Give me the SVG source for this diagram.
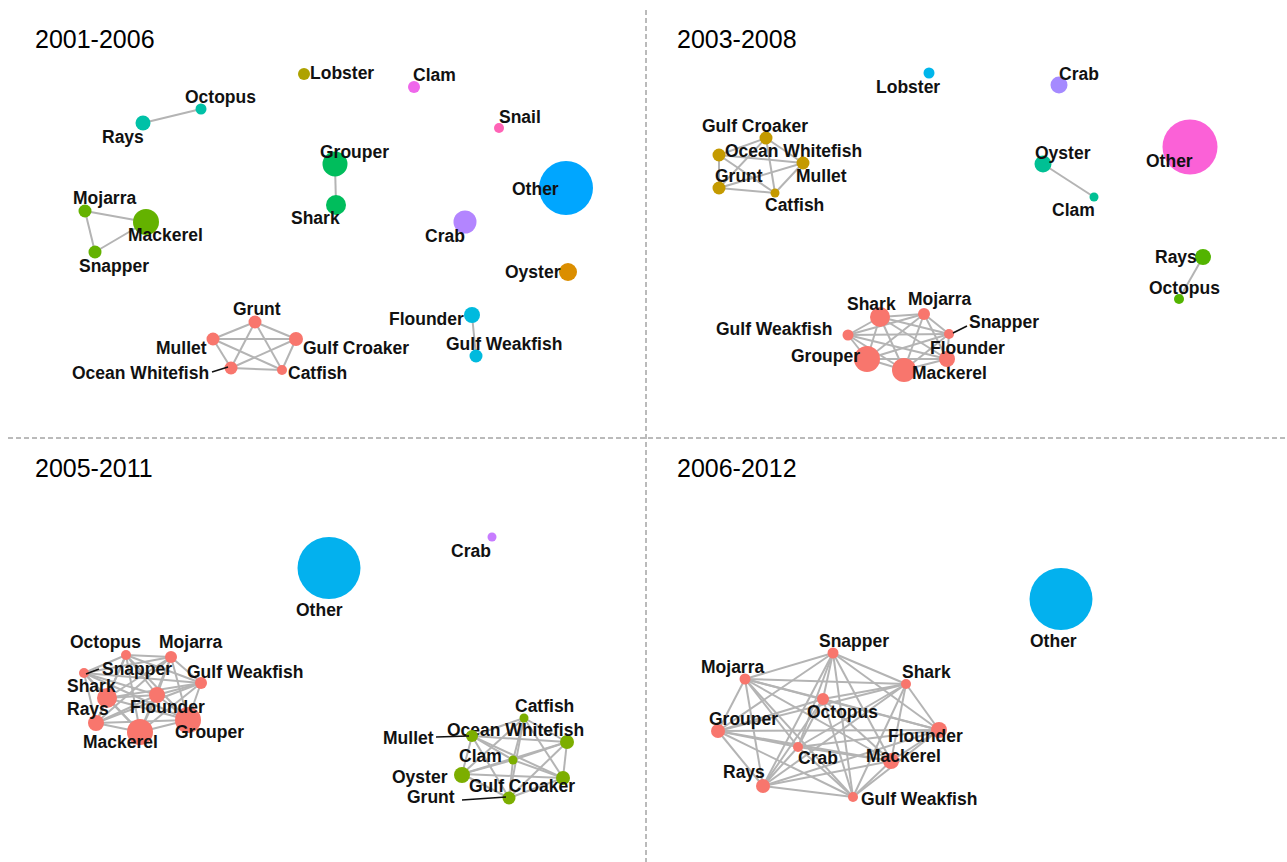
<svg xmlns="http://www.w3.org/2000/svg" width="1287" height="862" viewBox="0 0 1287 862">
<style>
.t{font-family:"Liberation Sans",Arial,sans-serif;font-size:25px;fill:#000}
.l{font-family:"Liberation Sans",Arial,sans-serif;font-size:17.5px;font-weight:bold;fill:#111}
.e line{stroke:#b4b4b4;stroke-width:2}
.ld{stroke:#111;stroke-width:1.6}
.dv{stroke:#777;stroke-width:1;stroke-dasharray:5 3;fill:none}
.s{fill:#F8766D}
</style>
<rect width="1287" height="862" fill="#fff"/>
<g id="dividers">
<line class="dv" x1="646" y1="10" x2="646" y2="862"/>
<line class="dv" x1="8" y1="438" x2="1287" y2="438"/>
</g>
<g id="titles">
<text class="t" x="35" y="48">2001-2006</text>
<text class="t" x="677" y="48">2003-2008</text>
<text class="t" x="35" y="477">2005-2011</text>
<text class="t" x="677" y="477">2006-2012</text>
</g>
<g id="connectors" class="e">
<!-- Q1 -->
<line x1="143" y1="123" x2="201" y2="109"/>
<line x1="335" y1="164" x2="336" y2="205"/>
<line x1="85" y1="211" x2="146" y2="222"/>
<line x1="85" y1="211" x2="95" y2="252"/>
<line x1="95" y1="252" x2="146" y2="222"/>
<line x1="472" y1="315" x2="476" y2="356"/>
<line x1="255" y1="322" x2="213" y2="339"/>
<line x1="255" y1="322" x2="296" y2="339"/>
<line x1="255" y1="322" x2="231" y2="368"/>
<line x1="255" y1="322" x2="282" y2="370"/>
<line x1="213" y1="339" x2="296" y2="339"/>
<line x1="213" y1="339" x2="231" y2="368"/>
<line x1="213" y1="339" x2="282" y2="370"/>
<line x1="296" y1="339" x2="231" y2="368"/>
<line x1="296" y1="339" x2="282" y2="370"/>
<line x1="231" y1="368" x2="282" y2="370"/>
<!-- Q2 -->
<line x1="1043" y1="164" x2="1094" y2="197"/>
<line x1="1203" y1="257" x2="1179" y2="299"/>
<line x1="766" y1="138" x2="719" y2="155"/>
<line x1="766" y1="138" x2="803" y2="163"/>
<line x1="766" y1="138" x2="719" y2="188"/>
<line x1="766" y1="138" x2="775" y2="193"/>
<line x1="719" y1="155" x2="803" y2="163"/>
<line x1="719" y1="155" x2="719" y2="188"/>
<line x1="719" y1="155" x2="775" y2="193"/>
<line x1="803" y1="163" x2="719" y2="188"/>
<line x1="803" y1="163" x2="775" y2="193"/>
<line x1="719" y1="188" x2="775" y2="193"/>
<line x1="880" y1="317" x2="924" y2="314"/>
<line x1="880" y1="317" x2="848" y2="335"/>
<line x1="880" y1="317" x2="949" y2="334"/>
<line x1="880" y1="317" x2="867" y2="359"/>
<line x1="880" y1="317" x2="904" y2="370"/>
<line x1="880" y1="317" x2="947" y2="359"/>
<line x1="924" y1="314" x2="848" y2="335"/>
<line x1="924" y1="314" x2="949" y2="334"/>
<line x1="924" y1="314" x2="867" y2="359"/>
<line x1="924" y1="314" x2="904" y2="370"/>
<line x1="924" y1="314" x2="947" y2="359"/>
<line x1="848" y1="335" x2="949" y2="334"/>
<line x1="848" y1="335" x2="867" y2="359"/>
<line x1="848" y1="335" x2="904" y2="370"/>
<line x1="848" y1="335" x2="947" y2="359"/>
<line x1="949" y1="334" x2="867" y2="359"/>
<line x1="949" y1="334" x2="904" y2="370"/>
<line x1="949" y1="334" x2="947" y2="359"/>
<line x1="867" y1="359" x2="904" y2="370"/>
<line x1="867" y1="359" x2="947" y2="359"/>
<line x1="904" y1="370" x2="947" y2="359"/>
<!-- Q3 salmon -->
<line x1="126" y1="655" x2="171" y2="657"/>
<line x1="126" y1="655" x2="84" y2="673"/>
<line x1="126" y1="655" x2="107" y2="698"/>
<line x1="126" y1="655" x2="201" y2="683"/>
<line x1="126" y1="655" x2="157" y2="695"/>
<line x1="126" y1="655" x2="96" y2="723"/>
<line x1="126" y1="655" x2="140" y2="732"/>
<line x1="126" y1="655" x2="188" y2="720"/>
<line x1="171" y1="657" x2="84" y2="673"/>
<line x1="171" y1="657" x2="107" y2="698"/>
<line x1="171" y1="657" x2="201" y2="683"/>
<line x1="171" y1="657" x2="157" y2="695"/>
<line x1="171" y1="657" x2="96" y2="723"/>
<line x1="171" y1="657" x2="140" y2="732"/>
<line x1="171" y1="657" x2="188" y2="720"/>
<line x1="84" y1="673" x2="107" y2="698"/>
<line x1="84" y1="673" x2="201" y2="683"/>
<line x1="84" y1="673" x2="157" y2="695"/>
<line x1="84" y1="673" x2="96" y2="723"/>
<line x1="84" y1="673" x2="140" y2="732"/>
<line x1="84" y1="673" x2="188" y2="720"/>
<line x1="107" y1="698" x2="201" y2="683"/>
<line x1="107" y1="698" x2="157" y2="695"/>
<line x1="107" y1="698" x2="96" y2="723"/>
<line x1="107" y1="698" x2="140" y2="732"/>
<line x1="107" y1="698" x2="188" y2="720"/>
<line x1="201" y1="683" x2="157" y2="695"/>
<line x1="201" y1="683" x2="96" y2="723"/>
<line x1="201" y1="683" x2="140" y2="732"/>
<line x1="201" y1="683" x2="188" y2="720"/>
<line x1="157" y1="695" x2="96" y2="723"/>
<line x1="157" y1="695" x2="140" y2="732"/>
<line x1="157" y1="695" x2="188" y2="720"/>
<line x1="96" y1="723" x2="140" y2="732"/>
<line x1="96" y1="723" x2="188" y2="720"/>
<line x1="140" y1="732" x2="188" y2="720"/>
<!-- Q3 green -->
<line x1="524" y1="718" x2="472" y2="736"/>
<line x1="524" y1="718" x2="567" y2="742"/>
<line x1="524" y1="718" x2="513" y2="760"/>
<line x1="524" y1="718" x2="462" y2="774"/>
<line x1="524" y1="718" x2="563" y2="778"/>
<line x1="524" y1="718" x2="509" y2="798"/>
<line x1="472" y1="736" x2="567" y2="742"/>
<line x1="472" y1="736" x2="513" y2="760"/>
<line x1="472" y1="736" x2="462" y2="774"/>
<line x1="472" y1="736" x2="563" y2="778"/>
<line x1="472" y1="736" x2="509" y2="798"/>
<line x1="567" y1="742" x2="513" y2="760"/>
<line x1="567" y1="742" x2="462" y2="774"/>
<line x1="567" y1="742" x2="563" y2="778"/>
<line x1="567" y1="742" x2="509" y2="798"/>
<line x1="513" y1="760" x2="462" y2="774"/>
<line x1="513" y1="760" x2="563" y2="778"/>
<line x1="513" y1="760" x2="509" y2="798"/>
<line x1="462" y1="774" x2="563" y2="778"/>
<line x1="462" y1="774" x2="509" y2="798"/>
<line x1="563" y1="778" x2="509" y2="798"/>
<!-- Q4 -->
<line x1="833" y1="653" x2="745" y2="679"/>
<line x1="833" y1="653" x2="906" y2="684"/>
<line x1="833" y1="653" x2="823" y2="699"/>
<line x1="833" y1="653" x2="718" y2="731"/>
<line x1="833" y1="653" x2="939" y2="730"/>
<line x1="833" y1="653" x2="798" y2="747"/>
<line x1="833" y1="653" x2="891" y2="761"/>
<line x1="833" y1="653" x2="763" y2="786"/>
<line x1="833" y1="653" x2="853" y2="797"/>
<line x1="745" y1="679" x2="906" y2="684"/>
<line x1="745" y1="679" x2="823" y2="699"/>
<line x1="745" y1="679" x2="718" y2="731"/>
<line x1="745" y1="679" x2="939" y2="730"/>
<line x1="745" y1="679" x2="798" y2="747"/>
<line x1="745" y1="679" x2="891" y2="761"/>
<line x1="745" y1="679" x2="763" y2="786"/>
<line x1="745" y1="679" x2="853" y2="797"/>
<line x1="906" y1="684" x2="823" y2="699"/>
<line x1="906" y1="684" x2="718" y2="731"/>
<line x1="906" y1="684" x2="939" y2="730"/>
<line x1="906" y1="684" x2="798" y2="747"/>
<line x1="906" y1="684" x2="891" y2="761"/>
<line x1="906" y1="684" x2="763" y2="786"/>
<line x1="906" y1="684" x2="853" y2="797"/>
<line x1="823" y1="699" x2="718" y2="731"/>
<line x1="823" y1="699" x2="939" y2="730"/>
<line x1="823" y1="699" x2="798" y2="747"/>
<line x1="823" y1="699" x2="891" y2="761"/>
<line x1="823" y1="699" x2="763" y2="786"/>
<line x1="823" y1="699" x2="853" y2="797"/>
<line x1="718" y1="731" x2="939" y2="730"/>
<line x1="718" y1="731" x2="798" y2="747"/>
<line x1="718" y1="731" x2="891" y2="761"/>
<line x1="718" y1="731" x2="763" y2="786"/>
<line x1="718" y1="731" x2="853" y2="797"/>
<line x1="939" y1="730" x2="798" y2="747"/>
<line x1="939" y1="730" x2="891" y2="761"/>
<line x1="939" y1="730" x2="763" y2="786"/>
<line x1="939" y1="730" x2="853" y2="797"/>
<line x1="798" y1="747" x2="891" y2="761"/>
<line x1="798" y1="747" x2="763" y2="786"/>
<line x1="798" y1="747" x2="853" y2="797"/>
<line x1="891" y1="761" x2="763" y2="786"/>
<line x1="891" y1="761" x2="853" y2="797"/>
<line x1="763" y1="786" x2="853" y2="797"/>
</g>
<!-- Panel 1: 2001-2006 -->
<g id="p1-other"><ellipse cx="566" cy="188" rx="27" ry="27" fill="#00A6FF"/><text class="l" x="512" y="195">Other</text></g>
<g id="p1-mackerel"><circle cx="146" cy="222" r="13" fill="#64B200"/><text class="l" x="128" y="241">Mackerel</text></g>
<g id="p1-grouper"><circle cx="335" cy="164" r="12.5" fill="#00BD5C"/><text class="l" x="320" y="158">Grouper</text></g>
<g id="p1-crab"><circle cx="465" cy="222" r="11.5" fill="#B385FF"/><text class="l" x="425" y="242">Crab</text></g>
<g id="p1-shark"><circle cx="336" cy="205" r="10" fill="#00BD5C"/><text class="l" x="291" y="224">Shark</text></g>
<g id="p1-oyster"><circle cx="568" cy="272" r="9" fill="#DB8E00"/><text class="l" x="505" y="278">Oyster</text></g>
<g id="p1-flounder"><circle cx="472" cy="315" r="8" fill="#00BADE"/><text class="l" x="389" y="325">Flounder</text></g>
<g id="p1-rays"><circle cx="143" cy="123" r="7.5" fill="#00C1A7"/><text class="l" x="102" y="143">Rays</text></g>
<g id="p1-gulfcroaker"><circle cx="296" cy="339" r="7" class="s"/><text class="l" x="303" y="354">Gulf Croaker</text></g>
<g id="p1-gulfweakfish"><circle cx="476" cy="356" r="6.5" fill="#00BADE"/><text class="l" x="446" y="350">Gulf Weakfish</text></g>
<g id="p1-mojarra"><circle cx="85" cy="211" r="6.5" fill="#64B200"/><text class="l" x="73" y="204">Mojarra</text></g>
<g id="p1-snapper"><circle cx="95" cy="252" r="6.5" fill="#64B200"/><text class="l" x="79" y="272">Snapper</text></g>
<g id="p1-grunt"><circle cx="255" cy="322" r="6.5" class="s"/><text class="l" x="233" y="315">Grunt</text></g>
<g id="p1-mullet"><circle cx="213" cy="339" r="6.5" class="s"/><text class="l" x="156" y="354">Mullet</text></g>
<g id="p1-oceanwhitefish"><circle cx="231" cy="368" r="6.5" class="s"/><line class="ld" x1="212" y1="372" x2="228" y2="367"/><text class="l" x="72" y="379">Ocean Whitefish</text></g>
<g id="p1-lobster"><circle cx="304" cy="74" r="6" fill="#AEA200"/><text class="l" x="310" y="79">Lobster</text></g>
<g id="p1-clam"><circle cx="414" cy="87" r="6" fill="#EF67EB"/><text class="l" x="413" y="81">Clam</text></g>
<g id="p1-octopus"><circle cx="201" cy="109" r="5.5" fill="#00C1A7"/><text class="l" x="185" y="103">Octopus</text></g>
<g id="p1-snail"><circle cx="499" cy="128" r="5" fill="#FF63B6"/><text class="l" x="499" y="123">Snail</text></g>
<g id="p1-catfish"><circle cx="282" cy="370" r="5" class="s"/><text class="l" x="288" y="379">Catfish</text></g>
<!-- Panel 2: 2003-2008 -->
<g id="p2-other"><ellipse cx="1190" cy="147" rx="27.5" ry="27.5" fill="#FB61D7"/><text class="l" x="1146" y="167">Other</text></g>
<g id="p2-grouper"><circle cx="867" cy="359" r="13" class="s"/><text class="l" x="791" y="362">Grouper</text></g>
<g id="p2-mackerel"><circle cx="904" cy="370" r="12" class="s"/><text class="l" x="912" y="379">Mackerel</text></g>
<g id="p2-shark"><circle cx="880" cy="317" r="10" class="s"/><text class="l" x="847" y="310">Shark</text></g>
<g id="p2-crab"><circle cx="1059" cy="85" r="8.5" fill="#A58AFF"/><text class="l" x="1059" y="80">Crab</text></g>
<g id="p2-oyster"><circle cx="1043" cy="164" r="8.5" fill="#00C094"/><text class="l" x="1035" y="159">Oyster</text></g>
<g id="p2-flounder"><circle cx="947" cy="359" r="8" class="s"/><text class="l" x="930" y="354">Flounder</text></g>
<g id="p2-rays"><circle cx="1203" cy="257" r="8" fill="#53B400"/><text class="l" x="1155" y="263">Rays</text></g>
<g id="p2-gulfcroaker"><circle cx="766" cy="138" r="6.5" fill="#C49A00"/><text class="l" x="702" y="132">Gulf Croaker</text></g>
<g id="p2-oceanwhitefish"><circle cx="719" cy="155" r="6.5" fill="#C49A00"/><text class="l" x="725" y="157">Ocean Whitefish</text></g>
<g id="p2-mullet"><circle cx="803" cy="163" r="6.5" fill="#C49A00"/><text class="l" x="796" y="182">Mullet</text></g>
<g id="p2-grunt"><circle cx="719" cy="188" r="6.5" fill="#C49A00"/><text class="l" x="715" y="182">Grunt</text></g>
<g id="p2-mojarra"><circle cx="924" cy="314" r="6" class="s"/><text class="l" x="908" y="305">Mojarra</text></g>
<g id="p2-gulfweakfish"><circle cx="848" cy="335" r="5.5" class="s"/><text class="l" x="716" y="335">Gulf Weakfish</text></g>
<g id="p2-lobster"><circle cx="929" cy="73" r="5.5" fill="#00B6EB"/><text class="l" x="876" y="93">Lobster</text></g>
<g id="p2-snapper"><circle cx="949" cy="334" r="5" class="s"/><line class="ld" x1="953" y1="333" x2="967" y2="326"/><text class="l" x="969" y="328">Snapper</text></g>
<g id="p2-octopus"><circle cx="1179" cy="299" r="5" fill="#53B400"/><text class="l" x="1149" y="294">Octopus</text></g>
<g id="p2-catfish"><circle cx="775" cy="193" r="4.5" fill="#C49A00"/><text class="l" x="765" y="211">Catfish</text></g>
<g id="p2-clam"><circle cx="1094" cy="197" r="4.5" fill="#00C094"/><text class="l" x="1052" y="216">Clam</text></g>
<!-- Panel 3: 2005-2011 -->
<g id="p3-other"><ellipse cx="329" cy="568" rx="31.5" ry="31" fill="#03B1EE"/><text class="l" x="296" y="616">Other</text></g>
<g id="p3-mackerel"><circle cx="140" cy="732" r="13" class="s"/><text class="l" x="83" y="748">Mackerel</text></g>
<g id="p3-grouper"><circle cx="188" cy="720" r="13" class="s"/><text class="l" x="175" y="738">Grouper</text></g>
<g id="p3-shark"><circle cx="107" cy="698" r="10" class="s"/><text class="l" x="67" y="692">Shark</text></g>
<g id="p3-flounder"><circle cx="157" cy="695" r="8" class="s"/><text class="l" x="130" y="713">Flounder</text></g>
<g id="p3-rays"><circle cx="96" cy="723" r="8" class="s"/><text class="l" x="67" y="715">Rays</text></g>
<g id="p3-oyster"><circle cx="462" cy="775" r="8" fill="#7CAE00"/><text class="l" x="392" y="783">Oyster</text></g>
<g id="p3-oceanwhitefish"><circle cx="567" cy="742" r="7" fill="#7CAE00"/><text class="l" x="447" y="736">Ocean Whitefish</text></g>
<g id="p3-gulfcroaker"><circle cx="563" cy="778" r="7" fill="#7CAE00"/><text class="l" x="469" y="792">Gulf Croaker</text></g>
<g id="p3-grunt"><circle cx="509" cy="798" r="6.5" fill="#7CAE00"/><line class="ld" x1="462" y1="800" x2="506" y2="797"/><text class="l" x="407" y="803">Grunt</text></g>
<g id="p3-mojarra"><circle cx="171" cy="657" r="6" class="s"/><text class="l" x="159" y="648">Mojarra</text></g>
<g id="p3-gulfweakfish"><circle cx="201" cy="683" r="6" class="s"/><text class="l" x="187" y="678">Gulf Weakfish</text></g>
<g id="p3-mullet"><circle cx="472" cy="736" r="6" fill="#7CAE00"/><line class="ld" x1="436" y1="737" x2="469" y2="736"/><text class="l" x="383" y="744">Mullet</text></g>
<g id="p3-octopus"><circle cx="126" cy="655" r="5" class="s"/><text class="l" x="70" y="648">Octopus</text></g>
<g id="p3-snapper"><circle cx="84" cy="673" r="5" class="s"/><line class="ld" x1="86" y1="674" x2="99" y2="669"/><text class="l" x="102" y="675">Snapper</text></g>
<g id="p3-catfish"><circle cx="524" cy="718" r="4.5" fill="#7CAE00"/><text class="l" x="515" y="712">Catfish</text></g>
<g id="p3-clam"><circle cx="513" cy="760" r="4.5" fill="#7CAE00"/><text class="l" x="459" y="762">Clam</text></g>
<g id="p3-crab"><circle cx="492" cy="537" r="4.5" fill="#C77CFF"/><text class="l" x="451" y="557">Crab</text></g>
<!-- Panel 4: 2006-2012 -->
<g id="p4-other"><ellipse cx="1061" cy="599" rx="31.5" ry="31" fill="#03B1EE"/><text class="l" x="1030" y="647">Other</text></g>
<g id="p4-flounder"><circle cx="939" cy="730" r="8" class="s"/><text class="l" x="888" y="742">Flounder</text></g>
<g id="p4-mackerel"><circle cx="891" cy="761" r="8" class="s"/><text class="l" x="866" y="762">Mackerel</text></g>
<g id="p4-grouper"><circle cx="718" cy="731" r="7" class="s"/><text class="l" x="709" y="725">Grouper</text></g>
<g id="p4-rays"><circle cx="763" cy="786" r="7" class="s"/><text class="l" x="723" y="778">Rays</text></g>
<g id="p4-octopus"><circle cx="823" cy="699" r="6" class="s"/><text class="l" x="807" y="718">Octopus</text></g>
<g id="p4-snapper"><circle cx="833" cy="653" r="5.5" class="s"/><text class="l" x="819" y="647">Snapper</text></g>
<g id="p4-mojarra"><circle cx="745" cy="679" r="5.5" class="s"/><text class="l" x="701" y="673">Mojarra</text></g>
<g id="p4-shark"><circle cx="906" cy="684" r="5" class="s"/><text class="l" x="902" y="678">Shark</text></g>
<g id="p4-crab"><circle cx="798" cy="747" r="5" class="s"/><text class="l" x="798" y="764">Crab</text></g>
<g id="p4-gulfweakfish"><circle cx="853" cy="797" r="5" class="s"/><text class="l" x="861" y="805">Gulf Weakfish</text></g>
</svg>
